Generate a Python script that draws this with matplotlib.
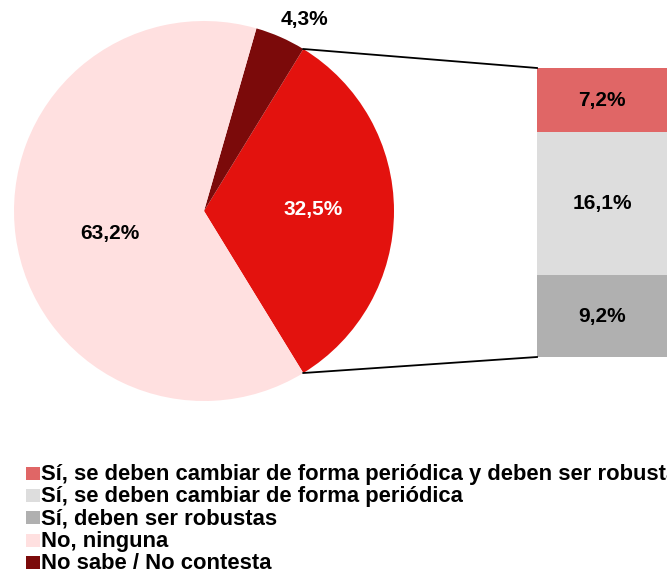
import numpy as np
import matplotlib.pyplot as plt

plt.rcParams['font.family'] = ['Liberation Sans', 'DejaVu Sans']

# pie: share of each answer
pie_labels = ["Sí", "No sabe / No contesta", "No, ninguna"]
pie_values = [32.5, 4.3, 63.2]
pie_colors = ["#E3120E", "#7B0A0A", "#FFE0E0"]

# breakdown of the "Sí" slice (bottom to top)
bar_labels = ["Sí, deben ser robustas",
              "Sí, se deben cambiar de forma periódica",
              "Sí, se deben cambiar de forma periódica y deben ser robustas"]
bar_values = [9.2, 16.1, 7.2]
bar_colors = ["#B0B0B0", "#DDDDDD", "#E06666"]

legend_labels = ["Sí, se deben cambiar de forma periódica y deben ser robustas",
                 "Sí, se deben cambiar de forma periódica",
                 "Sí, deben ser robustas",
                 "No, ninguna",
                 "No sabe / No contesta"]
legend_colors = ["#E06666", "#DDDDDD", "#B0B0B0", "#FFE0E0", "#7B0A0A"]


def fmt(v):
    return f"{v:.1f}".replace(".", ",") + "%"


W, H = 667, 574
fig = plt.figure(figsize=(W / 100, H / 100), dpi=100)
ax = fig.add_axes([0, 0, 1, 1])

# work in pixel-like coordinates, y up
cx, cy, r = 204, H - 211, 190
start = -pie_values[0] / 100 * 360 / 2   # red slice centred on the right

wedges, _ = ax.pie(pie_values, colors=pie_colors, startangle=start,
                   center=(cx, cy), radius=r, counterclock=True,
                   wedgeprops=dict(linewidth=0))

# percentage labels on the pie
pie_text_pos = [(313, 209), (304, 20), (110, 234)]
pie_text_col = ["white", "black", "black"]
for v, (tx, ty), c in zip(pie_values, pie_text_pos, pie_text_col):
    ax.text(tx, H - ty, fmt(v), color=c, ha="center", va="center",
            fontsize=15, fontweight="bold")

# stacked bar for the breakdown
bar_left, bar_w = 537, 160
bar_bottom = H - 357
scale = (357 - 68) / sum(bar_values)
bottom = bar_bottom
for v, c in zip(bar_values, bar_colors):
    h = v * scale
    ax.bar(bar_left, h, width=bar_w, bottom=bottom, color=c, align="edge",
           linewidth=0)
    ax.text(bar_left + 65, bottom + h / 2, fmt(v), ha="center", va="center",
            fontsize=15, fontweight="bold", color="black")
    bottom += h

# connector lines from the "Sí" wedge edges to the bar
t1 = np.deg2rad(start + pie_values[0] / 100 * 360)
t0 = np.deg2rad(start)
ax.plot([cx + r * np.cos(t1), bar_left], [cy + r * np.sin(t1), bottom],
        color="black", lw=1.3)
ax.plot([cx + r * np.cos(t0), bar_left], [cy + r * np.sin(t0), bar_bottom],
        color="black", lw=1.3)

# legend drawn by hand
ly = 473.5
for lab, c in zip(legend_labels, legend_colors):
    ax.add_patch(plt.Rectangle((26, H - ly - 6.5), 13.5, 13, color=c, lw=0))
    ax.text(41, H - ly - 1, lab, ha="left", va="center", fontsize=15.8,
            fontweight="bold")
    ly += 22.2

ax.set_xlim(0, W)
ax.set_ylim(0, H)
ax.set_aspect("auto")
ax.axis("off")

fig.savefig("out.png", dpi=100)
